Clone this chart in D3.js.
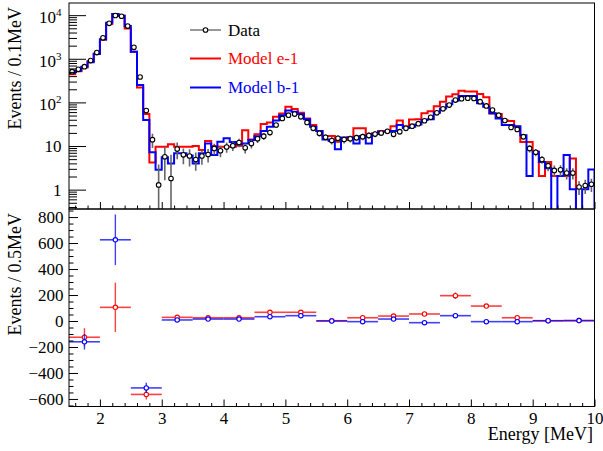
<!DOCTYPE html>
<html>
<head>
<meta charset="utf-8">
<script src="https://cdn.jsdelivr.net/npm/d3@7"></script>
<style>
  body { margin: 0; background: #fff; }
  svg { display: block; }
  text { font-family: "Liberation Serif", "Times New Roman", serif; }
</style>
</head>
<body>
<div id="chart"></div>
<script>
// Data (top panel: 0.1 MeV bins from 1.5 to 10 MeV)
const binStart = 1.5
const binWidth = 0.1

const dataCounts = [
  505, 573, 659, 912, 1390, 3020, 6490, 9830, 9450, 5630,
  1830, 382, 65, 14, 1.28, 5.65, 1.8, 8.5, 6.3, 5.9,
  4.9, 5.9, 6.4, 8.8, 7.8, 9.5, 10.2, 12, 9.1, 11.4,
  14.6, 16.8, 20.4, 30.3, 43, 51, 54, 46.6, 34.8, 25.5,
  19.5, 15.9, 13.4, 15, 14.1, 14.7, 15.5, 16.4, 17.5, 18.8,
  19.9, 21.8, 18.6, 21.3, 25.5, 28.5, 32.6, 38, 45.5, 57.6,
  71.3, 86.9, 113, 122, 125, 123, 104, 83, 66.6, 51,
  38.5, 26.7, 24, 16.4, 8.8, 7.2, 4.9, 3.55, 2.76, 2.84,
  2.4, 2.4, 1.15, 1.24, 1.33
]

const dataErr = [
  25, 26, 28, 32, 40, 58, 85, 105, 102, 80,
  45, 20, 8, 5, 2.5, 4, 4.5, 3.5, 2.5, 2.5,
  2.2, 2.2, 2.2, 2.5, 2.3, 2.5, 2.5, 2.6, 2.4, 2.6,
  2.8, 3, 3.2, 3.8, 4.4, 4.8, 5, 4.6, 4, 3.4,
  3, 2.8, 2.6, 2.7, 2.6, 2.7, 2.7, 2.8, 2.9, 3,
  3, 3.1, 3, 3.1, 3.4, 3.6, 3.8, 4.1, 4.5, 5,
  5.6, 6.2, 7, 7.3, 7.3, 7.3, 6.7, 6, 5.3, 4.6,
  4, 3.3, 3.1, 2.4, 1.7, 1.4, 1.0, 0.9, 0.8, 0.8,
  0.7, 0.7, 0.4, 0.45, 0.45
]

const modelE1 = [
  444, 518, 631, 888, 1316, 2740, 6300, 10600, 9640, 4970,
  1457, 220, 54, 4.2, 9.6, 9.6, 11, 9.6, 9.6, 9.6,
  10, 8.1, 13, 10, 9.6, 9.6, 9.6, 10.1, 23, 14.1,
  18.6, 32, 34.8, 46.6, 55.7, 79.5, 70.4, 57.6, 43, 30.3,
  22.2, 17, 17, 12.6, 13.8, 15.8, 25.5, 25.5, 17, 19.5,
  22.2, 22.2, 28.5, 38.5, 28.5, 40.3, 41.2, 56.7, 63, 81.4,
  104, 136.5, 153, 185, 178, 178, 155, 132, 55.7, 54,
  38.5, 37.6, 27.6, 12.3, 12.3, 7.4, 2.06, 4.3, 2.06, 2.06,
  2.06, 5.2, 0, 0, 0
]

const modelB1 = [
  481, 532, 659, 832, 1288, 2790, 6690, 10600, 9640, 5630,
  1457, 251, 39.4, 7.2, 2.85, 5.5, 4.0, 6.8, 6.8, 6.1,
  4.0, 6.8, 11.5, 6.2, 12.6, 15, 12.3, 11, 11.4, 13.7,
  16.8, 22.2, 27.6, 38.5, 51, 64.8, 61.2, 54, 41.2, 27.6,
  22.2, 14.1, 13, 8.4, 15.6, 15.6, 11.5, 17, 11.5, 18.9,
  21.3, 21.3, 22.2, 30.3, 25.8, 27.6, 31.2, 39.4, 41.2, 57.6,
  72.2, 90.5, 108.8, 140, 140, 140, 95, 79.5, 56.7, 43,
  30.3, 30.3, 28.5, 17.7, 2.06, 7.4, 4.3, 3.1, 0, 2.06,
  6.2, 1.02, 0, 1.02, 2.9
]

// Bottom panel: 0.5 MeV bins
const resCenters = [1.75, 2.25, 2.75, 3.25, 3.75, 4.25, 4.75, 5.25, 5.75, 6.25, 6.75, 7.25, 7.75, 8.25, 8.75, 9.25, 9.75]
const resHalf = 0.25
const resE1 = [-125, 105, -565, 28, 25, 25, 67, 67, 2, 25, 38, 54, 195, 115, 25, 2, 3]
const resE1Err = [70, 190, 40, 10, 8, 8, 9, 9, 7, 7, 8, 9, 25, 14, 8, 5, 3]
const resB1 = [-160, 625, -515, 8, 15, 15, 33, 41, 0, -5, 15, -13, 41, -5, -5, 2, 3]
const resB1Err = [60, 195, 40, 9, 7, 7, 8, 8, 6, 6, 7, 8, 12, 8, 7, 5, 3]

// Ticks
const xTicks = [2, 3, 4, 5, 6, 7, 8, 9, 10]
const yTopTicks = [1, 10, 100, 1000, 10000]
const yTopLabels = [['1', ''], ['10', ''], ['10', '2'], ['10', '3'], ['10', '4']]
const yBotTicks = [-600, -400, -200, 0, 200, 400, 600, 800]

const legendItems = [
  { name: 'Data', color: '#000', marker: true },
  { name: 'Model e-1', color: '#ff0000', marker: false },
  { name: 'Model b-1', color: '#0000ff', marker: false }
]

// Dimensions
const dims = { width: 603, height: 451, left: 69, right: 594.5, top: 3, mid: 209, bottom: 406.5 }

const svg = d3.select('#chart')
  .append('svg')
  .attr('width', dims.width)
  .attr('height', dims.height)

svg.append('rect').attr('width', dims.width).attr('height', dims.height).attr('fill', '#fff')

// Scales
const xScale = d3.scaleLinear().domain([1.5, 10]).range([dims.left, dims.right])
const yTop = d3.scaleLog().domain([0.36, 19000]).range([dims.mid, dims.top])
const yBot = d3.scaleLinear().domain([-658, 862]).range([dims.bottom, dims.mid])

const defs = svg.append('defs')
defs.append('clipPath').attr('id', 'clipTop')
  .append('rect')
  .attr('x', dims.left).attr('y', dims.top)
  .attr('width', dims.right - dims.left).attr('height', dims.mid - dims.top)

const floorVal = 0.05
const yTopC = v => yTop(Math.max(v, floorVal))

// Histograms
function histPath(values) {
  const pts = []
  values.forEach((v, i) => {
    const lo = binStart + i * binWidth
    pts.push([lo, v], [lo + binWidth, v])
  })
  pts.push([binStart + values.length * binWidth, 0])
  return d3.line().x(d => xScale(d[0])).y(d => yTopC(d[1]))(pts)
}

const topG = svg.append('g').attr('clip-path', 'url(#clipTop)')

topG.append('path')
  .attr('d', histPath(modelE1))
  .attr('fill', 'none')
  .attr('stroke', '#ff0000')
  .attr('stroke-width', 2)

topG.append('path')
  .attr('d', histPath(modelB1))
  .attr('fill', 'none')
  .attr('stroke', '#0000ff')
  .attr('stroke-width', 2)

// Data points
const centers = dataCounts.map((d, i) => binStart + (i + 0.5) * binWidth)

topG.selectAll('line.err')
  .data(dataCounts)
  .join('line')
  .attr('class', 'err')
  .attr('x1', (d, i) => xScale(centers[i]))
  .attr('x2', (d, i) => xScale(centers[i]))
  .attr('y1', (d, i) => yTopC(d - dataErr[i]))
  .attr('y2', (d, i) => yTopC(d + dataErr[i]))
  .attr('stroke', '#666')
  .attr('stroke-width', 1.6)

topG.selectAll('circle')
  .data(dataCounts)
  .join('circle')
  .attr('cx', (d, i) => xScale(centers[i]))
  .attr('cy', d => yTopC(d))
  .attr('r', 2.3)
  .attr('fill', '#fff')
  .attr('stroke', '#000')
  .attr('stroke-width', 1.1)

// Bottom panel points
function drawRes(vals, errs, color) {
  const g = svg.append('g')
  g.selectAll('line.h')
    .data(vals)
    .join('line')
    .attr('class', 'h')
    .attr('x1', (d, i) => xScale(resCenters[i] - resHalf))
    .attr('x2', (d, i) => xScale(resCenters[i] + resHalf))
    .attr('y1', d => yBot(d))
    .attr('y2', d => yBot(d))
    .attr('stroke', color)
    .attr('stroke-opacity', 0.75)
    .attr('stroke-width', 1.6)
  g.selectAll('line.v')
    .data(vals)
    .join('line')
    .attr('class', 'v')
    .attr('x1', (d, i) => xScale(resCenters[i]))
    .attr('x2', (d, i) => xScale(resCenters[i]))
    .attr('y1', (d, i) => yBot(d - errs[i]))
    .attr('y2', (d, i) => yBot(d + errs[i]))
    .attr('stroke', color)
    .attr('stroke-opacity', 0.75)
    .attr('stroke-width', 1.4)
  g.selectAll('circle')
    .data(vals)
    .join('circle')
    .attr('cx', (d, i) => xScale(resCenters[i]))
    .attr('cy', d => yBot(d))
    .attr('r', 2.2)
    .attr('fill', '#fff')
    .attr('stroke', color)
    .attr('stroke-width', 1.1)
}
drawRes(resE1, resE1Err, '#ff0000')
drawRes(resB1, resB1Err, '#0000ff')

// Axes (ROOT style: ticks inside the frame)
const xMinor = d3.range(1.6, 10.01, 0.2).filter(v => Math.abs(v - Math.round(v)) > 0.01)
const clean = g => g.call(s => s.select('.domain').remove()).selectAll('line').attr('stroke', '#000')

function xAxisAt(y, withLabels) {
  svg.append('g').attr('transform', `translate(0,${y})`)
    .call(d3.axisBottom(xScale).tickValues(xMinor).tickSize(-3.5).tickFormat(''))
    .call(clean)
  const g = svg.append('g').attr('transform', `translate(0,${y})`)
    .call(d3.axisBottom(xScale).tickValues(xTicks).tickSize(-7).tickPadding(5.5)
      .tickFormat(withLabels ? d3.format('d') : ''))
    .call(clean)
  g.selectAll('text').attr('font-size', 17).attr('font-family', '"Liberation Serif", serif').attr('fill', '#000')
}
xAxisAt(dims.mid, false)
xAxisAt(dims.bottom, true)

// Top left log axis
const yTopMinor = yTop.ticks().filter(v => !yTopTicks.includes(v))
svg.append('g').attr('transform', `translate(${dims.left},0)`)
  .call(d3.axisLeft(yTop).tickValues(yTopMinor).tickSize(-8).tickFormat(''))
  .call(clean)
svg.append('g').attr('transform', `translate(${dims.left},0)`)
  .call(d3.axisLeft(yTop).tickValues(yTopTicks).tickSize(-17).tickFormat(''))
  .call(clean)

const topLabels = svg.append('g')
yTopTicks.forEach((v, i) => {
  const [base, exp] = yTopLabels[i]
  const t = topLabels.append('text')
    .attr('x', 61.5)
    .attr('text-anchor', 'end')
    .attr('font-size', 17)
    .attr('fill', '#000')
  if (exp) {
    t.attr('y', yTop(v) + 8)
    t.append('tspan').text(base)
    t.append('tspan').attr('font-size', 11).attr('dy', -7).text(exp)
  } else {
    t.attr('y', yTop(v) + 6).text(base)
  }
})

// Bottom left axis
svg.append('g').attr('transform', `translate(${dims.left},0)`)
  .call(d3.axisLeft(yBot).tickValues(d3.range(-650, 851, 50).filter(v => v % 200 !== 0)).tickSize(-4.5).tickFormat(''))
  .call(clean)
const gb = svg.append('g').attr('transform', `translate(${dims.left},0)`)
  .call(d3.axisLeft(yBot).tickValues(yBotTicks).tickSize(-9).tickPadding(5.5).tickFormat(d3.format('d')))
  .call(clean)
gb.selectAll('text').attr('font-size', 17).attr('font-family', '"Liberation Serif", serif').attr('fill', '#000')

// Frames
svg.append('rect')
  .attr('x', dims.left).attr('y', dims.top)
  .attr('width', dims.right - dims.left).attr('height', dims.mid - dims.top)
  .attr('fill', 'none').attr('stroke', '#000').attr('stroke-width', 1)
svg.append('rect')
  .attr('x', dims.left).attr('y', dims.mid)
  .attr('width', dims.right - dims.left).attr('height', dims.bottom - dims.mid)
  .attr('fill', 'none').attr('stroke', '#000').attr('stroke-width', 1)

// Titles
svg.append('text')
  .attr('transform', 'translate(21,7) rotate(-90)')
  .attr('text-anchor', 'end')
  .attr('font-size', 18)
  .text('Events / 0.1MeV')
svg.append('text')
  .attr('transform', 'translate(21,213) rotate(-90)')
  .attr('text-anchor', 'end')
  .attr('font-size', 18)
  .text('Events / 0.5MeV')
svg.append('text')
  .attr('x', 593).attr('y', 440)
  .attr('text-anchor', 'end')
  .attr('font-size', 18)
  .text('Energy [MeV]')

// Legend
const legend = svg.append('g')
const legendY = [30, 58.5, 87.5]
legendItems.forEach((item, i) => {
  const y = legendY[i]
  legend.append('line')
    .attr('x1', 190).attr('x2', 221).attr('y1', y).attr('y2', y)
    .attr('stroke', item.marker ? '#333' : item.color)
    .attr('stroke-width', item.marker ? 1 : 2)
  if (item.marker) {
    legend.append('circle')
      .attr('cx', 205.5).attr('cy', y).attr('r', 2.3)
      .attr('fill', '#fff').attr('stroke', '#000').attr('stroke-width', 1.1)
  }
  legend.append('text')
    .attr('x', 228).attr('y', y + 5.5)
    .attr('font-size', 17)
    .attr('fill', item.color)
    .text(item.name)
})
</script>
</body>
</html>
